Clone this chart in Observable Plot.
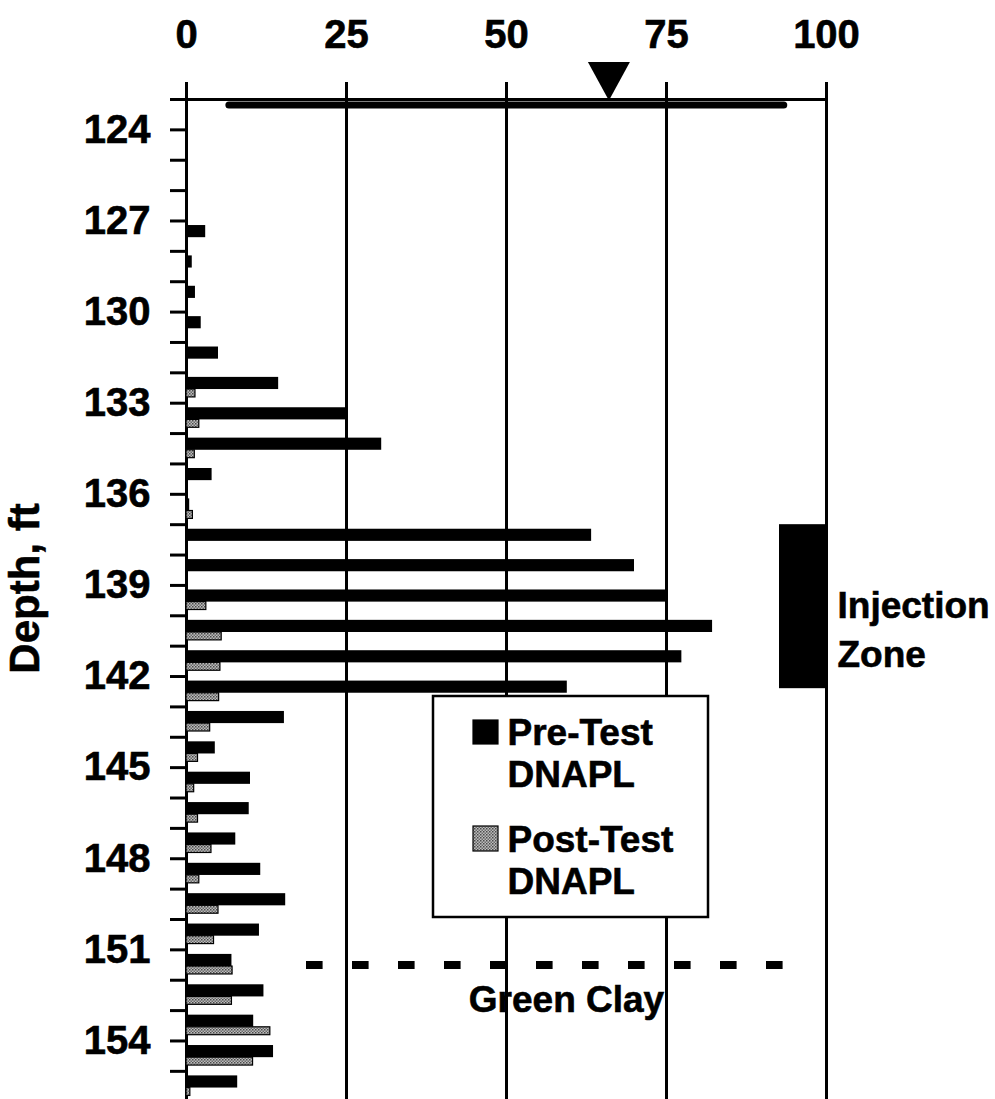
<!DOCTYPE html>
<html>
<head>
<meta charset="utf-8">
<script src="https://cdn.jsdelivr.net/npm/d3@7"></script>
<script src="https://cdn.jsdelivr.net/npm/@observablehq/plot@0.6"></script>
<style>
  body { margin: 0; background: #fff; }
  #chart { width: 995px; height: 1099px; }
  #chart svg text { stroke: black; stroke-width: 0.6px; }
</style>
</head>
<body>
<div id="chart"></div>
<script>
// DNAPL saturation by depth interval (top of each 1-ft interval, ft)
const depths   = [123,124,125,126,127,128,129,130,131,132,133,134,135,136,137,138,139,140,141,142,143,144,145,146,147,148,149,150,151,152,153,154,155];
const preTest  = [0,0,0,0,3.0,0.9,1.4,2.3,5.0,14.4,25.2,30.5,4.0,0.5,63.3,70.0,74.9,82.2,77.4,59.5,15.3,4.5,10.0,9.8,7.7,11.6,15.5,11.4,7.1,12.1,10.5,13.6,8.0];
const postTest = [0,0,0,0,0,0,0,0,0,1.4,2.0,1.3,0,1.0,0,0,3.1,5.5,5.3,5.1,3.7,1.8,1.2,1.8,3.9,2.0,5.0,4.3,7.2,7.1,13.1,10.4,0.6];

const xTicks = [0, 25, 50, 75, 100];
const depthTicks = d3.range(123, 156);
const depthLabels = [124, 127, 130, 133, 136, 139, 142, 145, 148, 151, 154];

const injectionZone = [137, 142.4];   // ft
const clayTop = 151.5;               // ft
const waterLevel = 123.18;           // ft
const waterLevelReach = [6.7, 93.4];
const waterMarker = [66];

const legendItems = ["Pre-Test\nDNAPL", "Post-Test\nDNAPL"];

// frame geometry
const W = 995, H = 1099, frameTop = 99, frameLeft = 186, frameRight = 826;
const pxPerFt = 30.37;
const yMax = depths[0] + (H - frameTop) / pxPerFt;
const px2x = px => (px - frameLeft) / (frameRight - frameLeft) * 100;
const px2y = py => depths[0] + (py - frameTop) / pxPerFt;

const rows = depths.map((d, i) => ({depth: d, pre: preTest[i], post: postTest[i]}));
const font = "'Liberation Sans', Arial, Helvetica, sans-serif";
const fs = 37;

// inverted triangle anchored at its apex
const downTriangle = {
  draw(context, size) {
    const r = Math.sqrt(size / Math.PI);
    const w = r * 1.05, h = r * 1.92;
    context.moveTo(-w, -h);
    context.lineTo(w, -h);
    context.lineTo(0, 0);
    context.closePath();
  }
};

const chart = Plot.plot({
  width: W,
  height: H,
  marginLeft: frameLeft,
  marginRight: W - frameRight,
  marginTop: frameTop,
  marginBottom: 0,
  style: {fontFamily: font, fontWeight: "bold", color: "black", background: "white", overflow: "visible"},
  x: {domain: [0, 100]},
  y: {domain: [depths[0], yMax], range: [frameTop, H]},
  marks: [
    // vertical grid and frame lines
    Plot.ruleX(xTicks, {y1: px2y(82), y2: yMax, stroke: "black", strokeWidth: 3}),
    Plot.ruleY([depths[0]], {x1: 0, x2: 100, stroke: "black", strokeWidth: 3}),

    // bars
    Plot.rect(rows.filter(d => d.pre > 0), {
      x1: 0, x2: "pre", y1: d => d.depth + 0.15, y2: d => d.depth + 0.55,
      fill: "black"
    }),
    Plot.rect(rows.filter(d => d.post > 0), {
      x1: 0, x2: "post", y1: d => d.depth + 0.55, y2: d => d.depth + 0.81,
      fill: "url(#stipple)", stroke: "black", strokeWidth: 1.2
    }),

    // water level and marker
    Plot.ruleY([waterLevel], {x1: waterLevelReach[0], x2: waterLevelReach[1], stroke: "black", strokeWidth: 7, strokeLinecap: "round"}),
    Plot.dot(waterMarker, {x: d => d, y: px2y(100), r: 20, symbol: downTriangle, fill: "black", stroke: "none"}),

    // injection zone
    Plot.rect([injectionZone], {x1: px2x(779), x2: 100, y1: d => d[0], y2: d => d[1], fill: "black"}),
    Plot.text(["Injection\nZone"], {
      x: px2x(837), y: px2y(626), text: d => d, textAnchor: "start", lineAnchor: "middle",
      lineHeight: 1.35, fontSize: fs, fill: "black"
    }),

    // green clay contact
    Plot.ruleY([clayTop], {x1: px2x(306), x2: px2x(783), stroke: "black", strokeWidth: 8, strokeDasharray: "16.6 29.4"}),
    Plot.text(["Green Clay"], {x: px2x(566), y: px2y(1000), text: d => d, textAnchor: "middle", lineAnchor: "middle", fontSize: fs, fill: "black"}),

    // legend
    Plot.rect([0], {x1: px2x(433), x2: px2x(708), y1: px2y(696), y2: px2y(917), fill: "white", stroke: "black", strokeWidth: 2.5}),
    Plot.rect(legendItems, {
      x1: px2x(473), x2: px2x(498),
      y1: (d, i) => px2y(i === 0 ? 720 : 826), y2: (d, i) => px2y(i === 0 ? 744 : 851),
      fill: (d, i) => i === 0 ? "black" : "url(#stipple)", stroke: "black", strokeWidth: 1.2
    }),
    Plot.text(legendItems, {
      x: px2x(507), y: (d, i) => px2y(i === 0 ? 752 : 859), text: d => d,
      textAnchor: "start", lineAnchor: "middle", lineHeight: 1.13, fontSize: fs, fill: "black"
    }),

    // axes
    Plot.axisX({anchor: "top", ticks: xTicks, tickSize: 0, tickPadding: 52, fontSize: 40, label: null, tickFormat: d => String(d)}),
    Plot.axisY({ticks: depthTicks, tickSize: 16, tickPadding: 20, strokeWidth: 3, fontSize: 40, label: null,
      tickFormat: d => depthLabels.includes(d) ? String(d) : ""}),
    Plot.text(["Depth, ft"], {x: px2x(25), y: px2y(588), text: d => d, rotate: -90, fontSize: 42, fill: "black"})
  ]
});

// stipple fill for the post-test bars
d3.select(chart).insert("defs", ":first-child").html(
  '<pattern id="stipple" width="3" height="3" patternUnits="userSpaceOnUse">' +
  '<rect width="3" height="3" fill="#bdbdbd"/>' +
  '<rect width="1.5" height="1.5" fill="#4a4a4a"/>' +
  '<rect x="1.5" y="1.5" width="1.5" height="1.5" fill="#6a6a6a"/>' +
  '</pattern>'
);

document.getElementById("chart").appendChild(chart);
</script>
</body>
</html>
